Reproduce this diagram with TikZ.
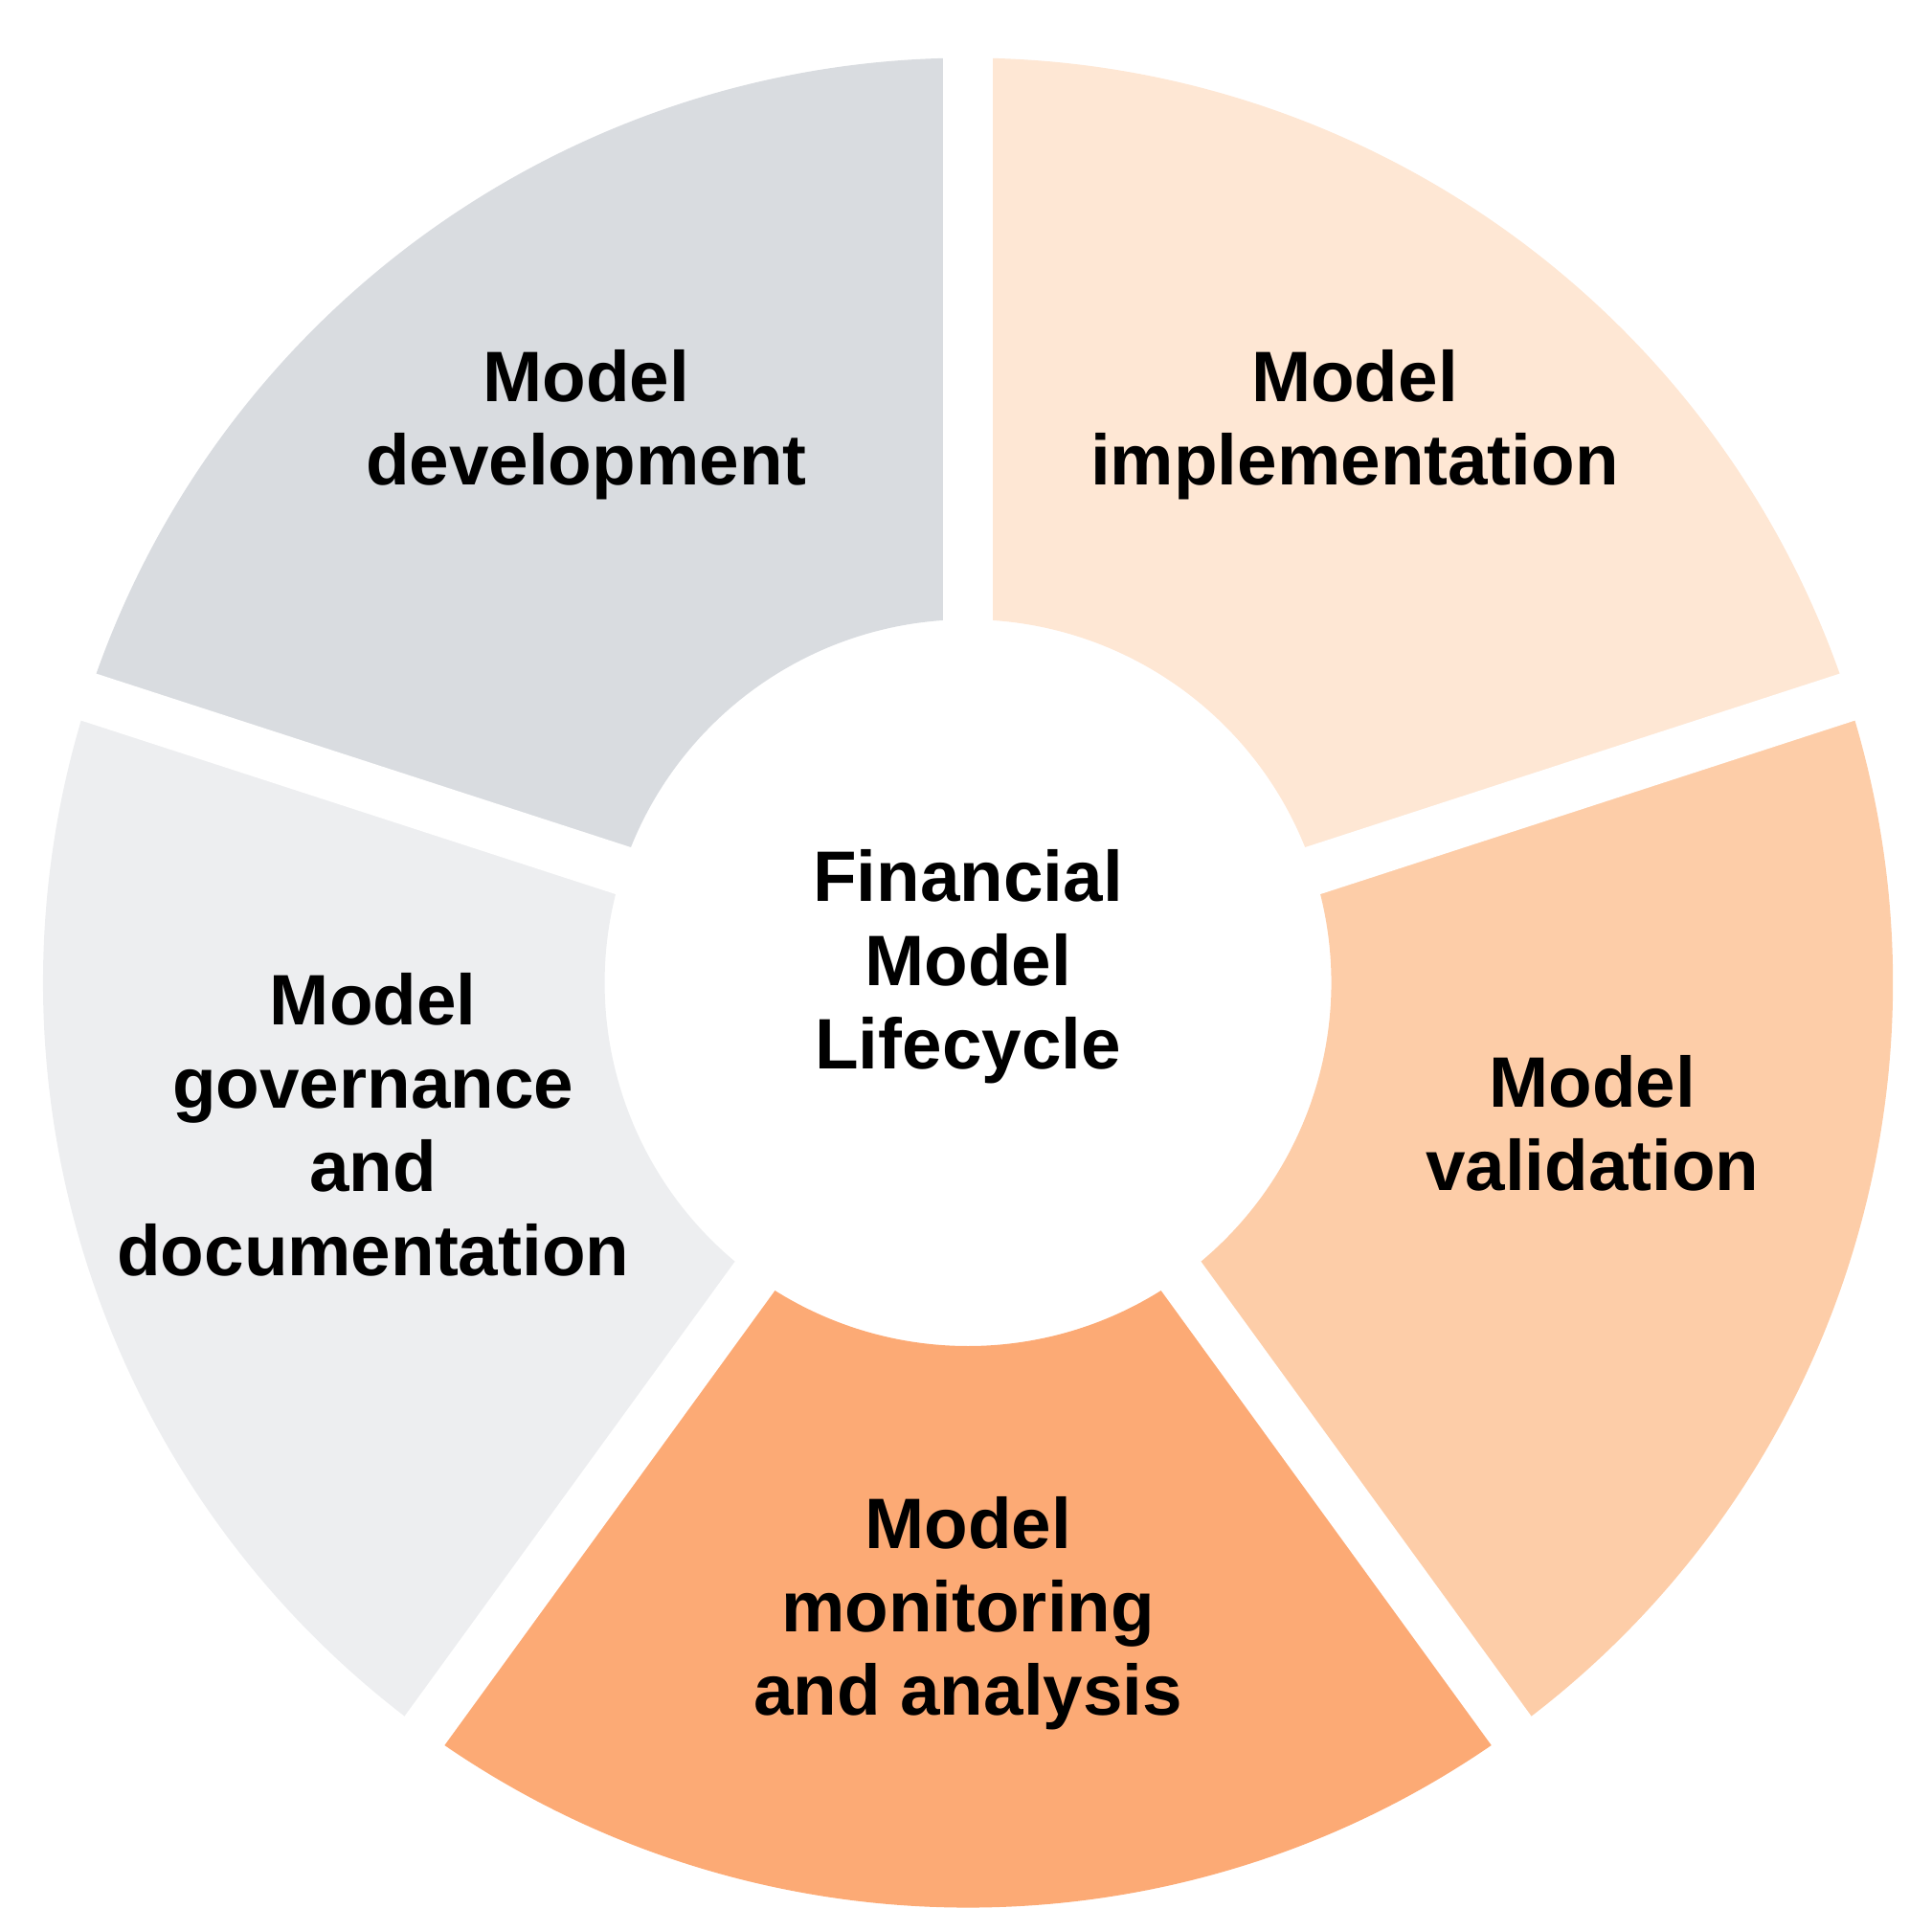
\documentclass[tikz,border=0pt]{standalone}
\usepackage{fontspec}
\setmainfont{Liberation Sans}
\usetikzlibrary{calc}
\definecolor{cdev}{HTML}{D9DCE0}
\definecolor{cimp}{HTML}{FEE7D4}
\definecolor{cval}{HTML}{FDCDA8}
\definecolor{cmon}{HTML}{FCAA75}
\definecolor{cgov}{HTML}{EDEEF0}
\tikzset{lab/.style={align=center,font=\bfseries\fontsize{16.5}{19.3}\selectfont,text=black}}
\begin{document}
\begin{tikzpicture}[x=0.01cm,y=0.01cm]
\useasboundingbox (0,0) rectangle (1568,-1568);
\coordinate (C) at (786,-798);
\foreach \a/\b/\col in {90/162/cdev,18/90/cimp,-54/18/cval,-126/-54/cmon,162/234/cgov}{
  \fill[\col] ($(C)+(\a:295)$) arc[start angle=\a,end angle=\b,radius=295] -- ($(C)+(\b:751)$) arc[start angle=\b,end angle=\a,radius=751] -- cycle;
}
\foreach \a in {90,18,-54,-126,162}{
  \draw[white,line width=0.4cm] (C) -- ($(C)+(\a:800)$);
}
\node[lab] (dev) at (476,-345) {Model\\development};
\node[lab] (imp) at (1100,-345) {Model\\implementation};
\node[lab] (val) at (1293,-912) {Model\\validation};
\node[lab] (mon) at (786,-1310) {Model\\monitoring\\and analysis};
\node[lab] (gov) at (303,-913) {Model\\governance\\and\\documentation};
\node[lab] (ctr) at (786,-785) {Financial\\Model\\Lifecycle};
\end{tikzpicture}
\end{document}
